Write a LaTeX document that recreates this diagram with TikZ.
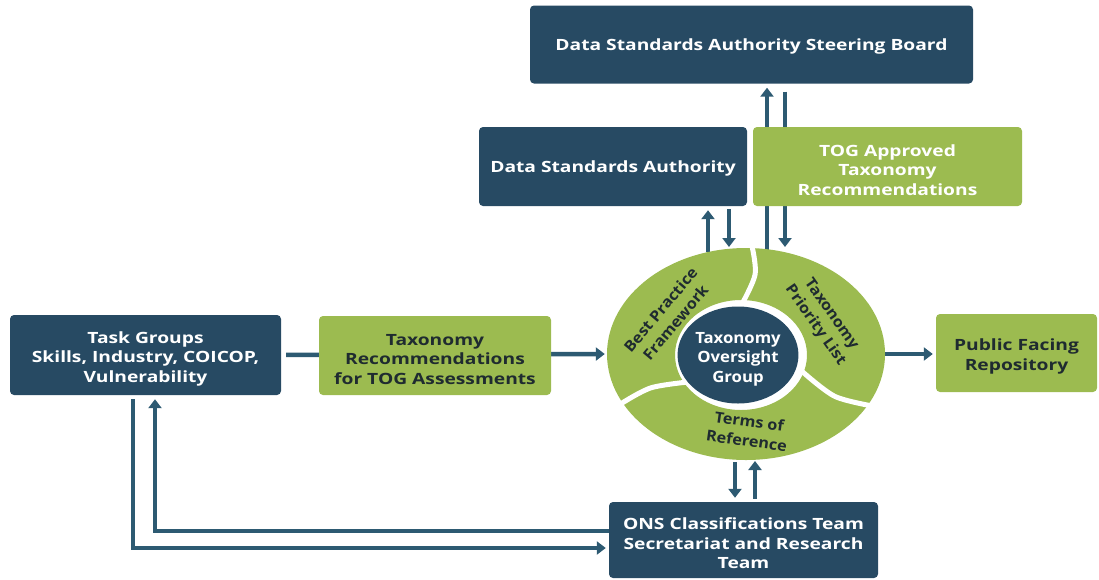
\documentclass[tikz,border=0pt]{standalone}
\usepackage{fontspec}
\setmainfont{Open Sans}[FakeStretch=1.24]
\newfontfamily\ringfont{Open Sans}[FakeStretch=1.08]
\usetikzlibrary{arrows.meta,backgrounds,shapes.geometric}
\definecolor{navy}{HTML}{274A63}
\definecolor{lgreen}{HTML}{9CBB50}
\definecolor{conn}{HTML}{2D5A72}
\definecolor{ink}{HTML}{1F2B30}
\newcommand\firstlinestrut{\rule{0pt}{19pt}}
\begin{document}
\begin{tikzpicture}[x=1pt,y=-1pt,
  struts/.style={execute at begin node={\rule{0pt}{17pt}}, execute at end node={\rule[-5pt]{0pt}{5pt}}},
  box/.style={rectangle, rounded corners=4pt, align=center, inner sep=2pt,
    font=\bfseries\fontsize{15.5}{19.5}\selectfont},
  navybox/.style={box, fill=navy, text=white},
  greenbox/.style={box, fill=lgreen, text=ink},
  lightbox/.style={box, fill=lgreen, text=white},
  arr/.style={draw=conn, line width=4.5pt, -{Triangle[length=9pt,width=13pt]}},
  ringtxt/.style={font=\ringfont\bfseries\fontsize{15}{19.5}\selectfont, text=ink, align=center, inner sep=0pt},
  gapline/.style={white, line width=5pt}
]
\useasboundingbox (0,0) rectangle (1099,579);

% boxes
\node[navybox, struts, minimum width=443pt, minimum height=78pt] (sb) at (751.5,44.5) {Data Standards Authority Steering Board};
\node[navybox, struts, minimum width=268pt, minimum height=79pt] (dsa) at (613,166.5) {Data Standards Authority};
\node[lightbox, minimum width=269pt, minimum height=79pt] (tog) at (887.5,166.5) {\firstlinestrut TOG Approved\\Taxonomy\\Recommendations};
\node[navybox, minimum width=271pt, minimum height=80pt] (tg) at (145.5,355) {\firstlinestrut Task Groups\\Skills, Industry, COICOP,\\Vulnerability};
\node[greenbox, minimum width=232pt, minimum height=79pt] (rec) at (435,355.5) {\firstlinestrut Taxonomy\\Recommendations\\for TOG Assessments};
\node[greenbox, minimum width=161pt, minimum height=78pt] (pf) at (1016.5,353) {\firstlinestrut Public Facing\\Repository};
\node[navybox, minimum width=269pt, minimum height=76pt] (ons) at (743.5,540) {\firstlinestrut ONS Classifications Team\\Secretariat and Research\\Team};

% ring
\node[ellipse, minimum width=278pt, minimum height=212pt, inner sep=0pt] (ring) at (746,354) {};
\fill[lgreen, even odd rule] (746,354) ellipse [x radius=139pt, y radius=106pt]
  (741,355) ellipse [x radius=66pt, y radius=55pt];
\begin{scope}[shift={(746,354)}, xscale=1.31, yscale=-1]
  \draw[gapline] plot[smooth] coordinates {(88:112) (85:80) (96:46)};
  \draw[gapline] plot[smooth] coordinates {(-28:112) (-32:80) (-22:46)};
  \draw[gapline] plot[smooth] coordinates {(208:112) (205:80) (216:46)};
\end{scope}
\node[ellipse, fill=navy, minimum width=114pt, minimum height=97pt, inner sep=0pt, text=white,
  align=center, font=\ringfont\bfseries\fontsize{15.5}{19.5}\selectfont] (tog2) at (738,355) {\firstlinestrut Taxonomy\\Oversight\\Group};
\node[ringtxt, rotate=50] (bpf) at (668,316) {Best Practice\\Framework};
\node[ringtxt, rotate=-55] (tpl) at (823,320) {Taxonomy\\Priority List};
\node[ringtxt, rotate=-8] (tor) at (748,431) {Terms of\\Reference};

% ring contact points
\coordinate (rDa) at (708,252);
\coordinate (rDb) at (729,247);
\coordinate (rTa) at (767,250);
\coordinate (rTb) at (785,247);
\coordinate (rBa) at (735,462);
\coordinate (rBb) at (755,461);
\coordinate (c1) at (155,531);
\coordinate (c2) at (133,548);

\begin{scope}[on background layer]
  \draw[arr, shorten >=4pt] (rDa) -- (rDa |- dsa.south);
  \draw[arr, shorten <=3pt] (dsa.south -| rDb) -- (rDb);
  \draw[arr, shorten >=4pt] (rTa) -- (rTa |- sb.south);
  \draw[arr, shorten <=8pt] (sb.south -| rTb) -- (rTb);
  \draw[arr, shorten <=5pt, shorten >=2pt] (tg.east) -- (ring.west);
  \draw[arr, shorten >=3pt] (ring.east) -- (ring.east -| pf.west);
  \draw[arr, shorten >=4pt] (rBa) -- (rBa |- ons.north);
  \draw[arr, shorten <=3pt] (ons.north -| rBb) -- (rBb);
  \draw[arr, shorten >=4pt] (ons.west |- c1) -- (c1) -- (c1 |- tg.south);
  \draw[arr, shorten <=4pt, shorten >=3pt] (tg.south -| c2) -- (c2) -- (c2 -| ons.west);
\end{scope}
\end{tikzpicture}
\end{document}
